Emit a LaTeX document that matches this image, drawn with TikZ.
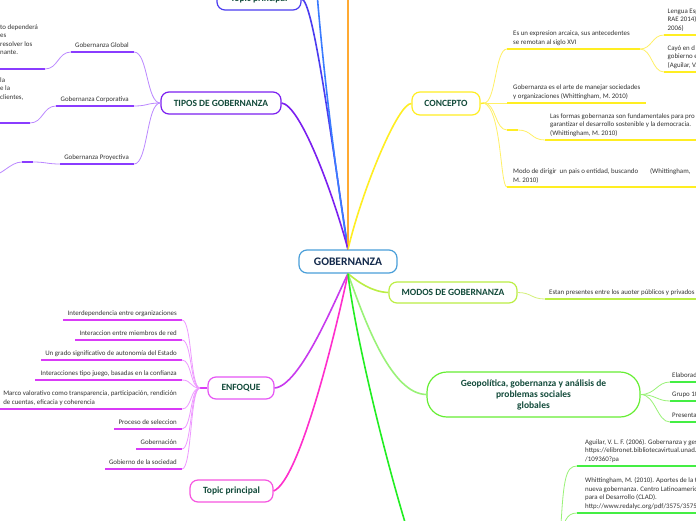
\documentclass[tikz,border=0pt]{standalone}
\usepackage{fontspec}
\setmainfont{Carlito}
\definecolor{txt}{HTML}{333333}
\definecolor{ttl}{HTML}{124A3A}
\definecolor{navy}{HTML}{13294B}
\definecolor{gobb}{HTML}{4A9FD9}
\definecolor{blueA}{HTML}{4B3CF0}
\definecolor{blueB}{HTML}{3A7BFF}
\definecolor{orng}{HTML}{FFAA33}
\definecolor{vio}{HTML}{7B1FF0}
\definecolor{vioL}{HTML}{BB88FF}
\definecolor{vioU}{HTML}{8A3CFF}
\definecolor{mag}{HTML}{C83AEE}
\definecolor{magB}{HTML}{E655F5}
\definecolor{magL}{HTML}{EE99FF}
\definecolor{magU}{HTML}{D93BF7}
\definecolor{pink}{HTML}{FF2ECC}
\definecolor{pinkB}{HTML}{F655E0}
\definecolor{yel}{HTML}{FFEE22}
\definecolor{yelL}{HTML}{FFF066}
\definecolor{lime}{HTML}{BBEE44}
\definecolor{limeL}{HTML}{D4F07A}
\definecolor{grn}{HTML}{66EE33}
\definecolor{grnL}{HTML}{99F277}
\definecolor{grnB}{HTML}{22EE22}
\definecolor{grnU}{HTML}{44EE44}
\newcommand\RItem[7][]{\coordinate (#2L) at (#3,#5); \coordinate (#2R) at (#4,#5);
  \node[rtxt,#1] (#2) at (#2L) {#7}; \draw[uline,#6] (#2L) -- (#2R);}
\newcommand\LItem[7][]{\coordinate (#2L) at (#3,#5); \coordinate (#2R) at (#4,#5);
  \node[ltxt,#1] (#2) at (#2R) {#7}; \draw[uline,#6] (#2L) -- (#2R);}
\begin{document}
\begin{tikzpicture}[x=1pt,y=-1pt,
  small/.style={font=\fontsize{6.9}{8.5}\selectfont, text=txt},
  rtxt/.style={small, anchor=south west, inner xsep=5pt, inner ysep=3pt, text depth=1.8pt, align=left},
  ltxt/.style={small, anchor=south east, inner xsep=5pt, inner ysep=3pt, text depth=1.8pt, align=right},
  frag/.style={small, anchor=north west, inner sep=0pt, align=left},
  mainbox/.style={draw, rounded corners=8pt, line width=1.2pt, fill=white, text=ttl, inner sep=0pt, font=\fontsize{9.5}{11}\selectfont\bfseries},
  conn/.style={line width=1.6pt},
  sub/.style={line width=0.8pt},
  uline/.style={line width=2pt}]
\useasboundingbox (0,0) rectangle (696,520);
\fill[white] (0,0) rectangle (696,520);

% main nodes
\node[mainbox, draw=gobb, text=navy, font=\fontsize{11.5}{13}\selectfont\bfseries, minimum width=98pt, minimum height=23pt] (gob) at (348,261.5) {GOBERNANZA};
\node[mainbox, draw=blueA, minimum width=84pt, minimum height=22pt] (tp1) at (259,-1) {Topic principal};
\node[mainbox, draw=vio, minimum width=120pt, minimum height=22pt] (tipos) at (221,103) {TIPOS DE GOBERNANZA};
\node[mainbox, draw=magB, minimum width=66pt, minimum height=22pt] (enf) at (241,388) {ENFOQUE};
\node[mainbox, draw=pinkB, minimum width=83pt, minimum height=22pt] (tp2) at (231.5,491) {Topic principal};
\node[mainbox, draw=yel, minimum width=68pt, minimum height=23pt] (conc) at (446,103.5) {CONCEPTO};
\node[mainbox, draw=lime, minimum width=128pt, minimum height=21pt] (modos) at (453,292.5) {MODOS DE GOBERNANZA};
\node[mainbox, draw=grn, rounded corners=20pt, minimum width=213pt, minimum height=45pt, align=center] (geo) at (533.5,394.5) {Geopolítica, gobernanza y análisis de\\problemas sociales\\globales};

\coordinate (blueTop) at (316,-20);
\coordinate (orTop) at (348,-10);
\coordinate (grnEnd) at (412,545);
\coordinate (refHub) at (560,545);

% main connectors
\draw[conn, blueA] (tp1.east) .. controls (313,0) and (330,130) .. (gob.north);
\draw[conn, blueB] (blueTop) .. controls (322,60) and (335,170) .. (gob.north);
\draw[conn, orng] (orTop) -- (gob.north);
\draw[conn, vio] (tipos.east) .. controls (300,105) and (332,190) .. (gob.north);
\draw[conn, yel] (conc.west) .. controls (398,103) and (362,190) .. (gob.north);
\draw[conn, mag] (enf.east) .. controls (300,386) and (335,300) .. (gob.south);
\draw[conn, pink] (tp2.east) .. controls (300,480) and (336,330) .. (gob.south);
\draw[conn, lime] (modos.west) .. controls (372,292) and (358,282) .. (gob.south);
\draw[conn, grnL] (gob.south) .. controls (366,325) and (392,394) .. (geo.west);
\draw[conn, grnB] (gob.south) .. controls (354,330) and (385,460) .. (grnEnd);

% TIPOS DE GOBERNANZA
\LItem{tg}{71}{134}{52}{vioU}{Gobernanza Global}
\LItem{tc}{56}{134}{106}{vioU}{Gobernanza Corporativa}
\LItem{tpv}{60}{134}{164}{vioU}{Gobernanza Proyectiva}
\foreach \n in {tg,tc,tpv} \draw[sub, vioL] (tipos.west) .. controls +(-14,0) and +(14,0) .. (\n R);
\node[frag] (gg1) at (0,24.5) {to dependerá\\es\\resolver los\\nante.};
\coordinate (gg1L) at (-5,69); \coordinate (gg1R) at (45,69);
\draw[uline, vioU] (gg1L) -- (gg1R);
\node[frag] (gg2) at (0,77.5) {la\\e la\\clientes,};
\coordinate (gg2L) at (-5,123); \coordinate (gg2R) at (30,123);
\draw[uline, vioU] (gg2L) -- (gg2R);
\coordinate (gg3L) at (22,162); \coordinate (gg3R) at (33,162);
\draw[uline, vioU] (gg3L) -- (gg3R);
\coordinate (gg3off) at (-10,176);
\draw[sub, vioL] (tgL) .. controls +(-13,0) and +(13,0) .. (gg1R);
\draw[sub, vioL] (tcL) .. controls +(-13,0) and +(13,0) .. (gg2R);
\draw[sub, vioL] (tpvL) .. controls +(-13,0) and +(13,0) .. (gg3R);
\draw[sub, vioL] (gg3L) .. controls +(-12,0) and +(12,0) .. (gg3off);

% ENFOQUE
\coordinate (enfHub) at (200,388);
\draw[magU, line width=1.4pt] (enf.west) -- (enfHub);
\LItem{e1}{63}{182}{320}{magU}{Interdependencia entre organizaciones}
\LItem{e2}{75}{182}{340}{magU}{Interaccion entre miembros de red}
\LItem{e3}{41}{182}{360}{magU}{Un grado significativo de autonomía del Estado}
\LItem{e4}{35}{182}{380}{magU}{Interacciones tipo juego, basadas en la confianza}
\LItem[align=left]{e5}{0}{182}{409}{magU}{Marco valorativo como transparencia, participación, rendición\\de cuentas, eficacia y coherencia}
\LItem{e6}{114}{182}{429}{magU}{Proceso de seleccion}
\LItem{e7}{136}{182}{449}{magU}{Gobernación}
\LItem{e8}{105}{182}{469}{magU}{Gobierno de la sociedad}
\foreach \n in {e1,e2,e3,e4,e5,e6,e7,e8} \draw[sub, magL] (enfHub) .. controls +(-10,0) and +(10,0) .. (\n R);

% CONCEPTO
\coordinate (concHub) at (484,103);
\draw[yel, line width=1.4pt] (conc.east) -- (concHub);
\RItem[inner xsep=6pt]{c1}{507}{640}{49}{yel}{Es un expresion arcaica, sus antecedentes\\se remotan al siglo XVI}
\RItem[inner xsep=6pt]{c2}{507}{646}{103}{yel}{Gobernanza es el arte de manejar sociedades\\y organizaciones (Whittingham, M. 2010)}
\coordinate (c3L) at (507,130); \coordinate (c3R) at (518,130);
\draw[uline, yel] (c3L) -- (c3R);
\RItem{c4}{545}{700}{140}{yel}{Las formas gobernanza son fundamentales para pro\\garantizar el desarrollo sostenible y la democracia.\\(Whittingham, M. 2010)}
\RItem[inner xsep=6pt]{c5}{507}{700}{187}{yel}{Modo de dirigir\ \ un pais o entidad, buscando\hspace{12pt}(Whittingham,\\M. 2010)}
\RItem[inner xsep=3.5pt]{ca}{664}{700}{35}{yel}{Lengua Esp\\RAE 2014)\\2006)}
\RItem[inner xsep=3.5pt]{cb}{664}{700}{72}{yel}{Cayó en d\\gobierno e\\(Aguilar, V.}
\draw[sub, yelL] (concHub) .. controls +(12,0) and +(-12,0) .. (c1L);
\draw[sub, yelL] (concHub) -- (c2L);
\draw[sub, yelL] (concHub) .. controls +(12,0) and +(-12,0) .. (c3L);
\draw[sub, yelL] (c3R) .. controls +(14,0) and +(-14,0) .. (c4L);
\draw[sub, yelL] (concHub) .. controls (502,110) and (500,187) .. (c5L);
\draw[sub, yelL] (c1R) .. controls +(12,0) and +(-12,0) .. (caL);
\draw[sub, yelL] (c1R) .. controls +(12,0) and +(-12,0) .. (cbL);

% MODOS
\RItem[inner xsep=4pt]{m1}{545}{700}{299}{lime}{Estan presentes entre los auoter públicos y privados}
\draw[sub, limeL] (modos.east) .. controls +(14,0) and +(-14,0) .. (m1L);

% Geopolitica
\RItem[inner xsep=2pt]{g1}{670}{700}{382}{grnU}{Elaborad}
\RItem[inner xsep=2pt]{g2}{670}{700}{401}{grnU}{Grupo 10}
\RItem[inner xsep=2pt]{g3}{670}{700}{422}{grnU}{Presenta}
\foreach \n in {g1,g2,g3} \draw[sub, grnL] (geo.east) .. controls +(15,0) and +(-13,0) .. (\n L);

% references
\RItem[inner xsep=8pt]{r1}{577}{700}{466}{grnU}{Aguilar, V. L. F. (2006). Gobernanza y ges\\https://elibronet.bibliotecavirtual.unad.e\\/109360?pa}
\RItem[inner xsep=8pt]{r2}{577}{700}{513}{grnU}{Whittingham, M. (2010). Aportes de la te\\nueva gobernanza. Centro Latinoameric\\para el Desarrollo (CLAD).\\http://www.redalyc.org/pdf/3575/35753}
\draw[sub, grnL] (refHub) .. controls (563,480) and (565,466) .. (r1L);
\draw[sub, grnL] (refHub) .. controls (563,522) and (566,513) .. (r2L);
\end{tikzpicture}
\end{document}
